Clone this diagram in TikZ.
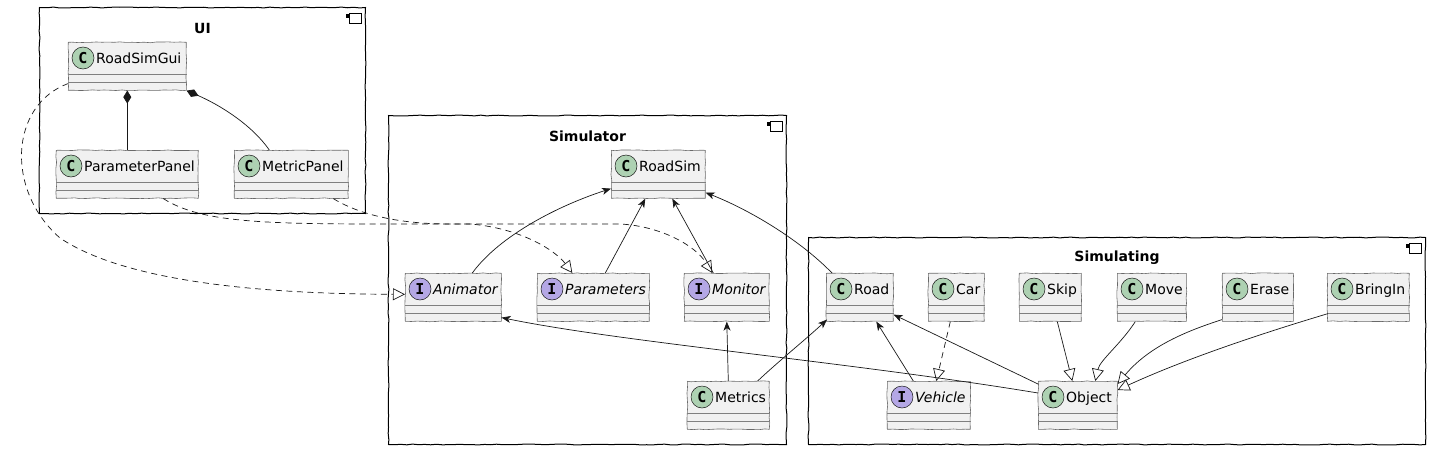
\documentclass[tikz,border=0pt]{standalone}
\usepackage{fontspec}
\setmainfont{DejaVu Sans}
\newfontfamily\badgefont{DejaVu Sans Mono}
\usepackage{tikz}
\usetikzlibrary{arrows.meta, decorations.pathmorphing}
\definecolor{classfill}{HTML}{F1F1F1}
\definecolor{classgreen}{HTML}{ADD1B2}
\definecolor{ifacepurple}{HTML}{B4A7E5}
\definecolor{lineblack}{HTML}{181818}
\tikzset{
    sketchy/.style={decorate, decoration={random steps, segment length=6pt, amplitude=0.45pt}},
    pkg_box/.style={rectangle, draw=black, line width=1pt, anchor=north west, inner sep=0pt, sketchy},
    pkg_title/.style={font=\bfseries\fontsize{14}{16}\selectfont, inner sep=0pt},
    class_box/.style={rectangle, draw=lineblack!65, line width=0.6pt, fill=classfill, minimum height=48pt, anchor=north west, inner sep=0pt, sketchy},
    sep_line/.style={draw=lineblack!55, line width=0.5pt},
    badge_C/.style={circle, draw=lineblack, line width=0.5pt, fill=classgreen, minimum size=22pt, inner sep=0pt, font=\badgefont\bfseries\fontsize{15}{15}\selectfont},
    badge_I/.style={badge_C, fill=ifacepurple},
    icon_line/.style={draw=black, line width=0.7pt},
    assoc/.style={-{Stealth[length=9pt, width=7pt, inset=2.5pt]}, draw=lineblack, line width=0.7pt},
    realize/.style={-{Triangle[open, length=12pt, width=12pt, fill=white]}, draw=lineblack, line width=0.7pt, dash pattern=on 6pt off 4.5pt},
    inherit/.style={-{Triangle[open, length=12pt, width=12pt, fill=white]}, draw=lineblack, line width=0.7pt},
    compose/.style={{Diamond[length=13pt, width=8pt]}-, draw=lineblack, line width=0.7pt}
}
% name, left, top, width, kind (C or I), label
\newcommand{\umlclass}[6]{%
    \node (#1) [class_box, minimum width=#4pt] at (#2,#3) {};
    \draw [sep_line] ([yshift=-32pt]#1.north west) -- ([yshift=-32pt]#1.north east);
    \draw [sep_line] ([yshift=-40pt]#1.north west) -- ([yshift=-40pt]#1.north east);
    \node [badge_#5] at ([xshift=15pt, yshift=-16pt]#1.north west) {#5};
    \node [anchor=base west, inner sep=0pt] at ([xshift=28pt, yshift=-21pt]#1.north west) {#6};
}
\newcommand{\pkgicon}[1]{%
    \draw [icon_line] ([xshift=-17pt, yshift=-6pt]#1.north east) rectangle ([xshift=-5pt, yshift=-16pt]#1.north east);
    \fill ([xshift=-20pt, yshift=-7pt]#1.north east) rectangle ([xshift=-16pt, yshift=-11pt]#1.north east);
}

\begin{document}
\begin{tikzpicture}[x=1pt, y=-1pt, font=\fontsize{14}{16}\selectfont]
            \pgfmathsetseed{5}
            \useasboundingbox (0,0) rectangle (1430,450);

            % Packages
            \node (ui) [pkg_box, minimum width=326pt, minimum height=206pt] at (39,7) {};
            \node [pkg_title] at ([yshift=-21pt]ui.north) {UI};
            \pkgicon{ui}

            \node (simulator) [pkg_box, minimum width=398pt, minimum height=329pt] at (388,115) {};
            \node [pkg_title] at ([yshift=-21pt]simulator.north) {Simulator};
            \pkgicon{simulator}

            \node (simulating) [pkg_box, minimum width=617pt, minimum height=207pt] at (808,237) {};
            \node [pkg_title] at ([yshift=-21pt]simulating.north) {Simulating};
            \pkgicon{simulating}

            % UI classes
            \umlclass{gui}{68}{42}{118}{C}{RoadSimGui}
            \umlclass{ppanel}{56}{150}{142}{C}{ParameterPanel}
            \umlclass{mpanel}{234}{150}{114}{C}{MetricPanel}

            % Simulator classes
            \umlclass{roadsim}{611}{150}{94}{C}{RoadSim}
            \umlclass{animator}{405}{273}{96}{I}{\textit{Animator}}
            \umlclass{params}{537}{273}{112}{I}{\textit{Parameters}}
            \umlclass{monitor}{684}{273}{85}{I}{\textit{Monitor}}
            \umlclass{metrics}{687}{381}{82}{C}{Metrics}

            % Simulating classes
            \umlclass{road}{826}{273}{67}{C}{Road}
            \umlclass{car}{928}{273}{56}{C}{Car}
            \umlclass{skip}{1019}{273}{62}{C}{Skip}
            \umlclass{move}{1117}{273}{69}{C}{Move}
            \umlclass{erase}{1222}{273}{71}{C}{Erase}
            \umlclass{bringin}{1327}{273}{82}{C}{BringIn}
            \umlclass{vehicle}{887}{381}{83}{I}{\textit{Vehicle}}
            \umlclass{object}{1038}{381}{79}{C}{Object}

            % Composition
            \draw [compose] (gui.south) -- (ppanel.north);
            \draw [compose] (gui.south east) .. controls (220,105) and (252,125) .. ([xshift=-22pt]mpanel.north);

            % Realizations
            \draw [realize] ([yshift=7pt]gui.south west) .. controls (10,105) and (5,190) .. (60,238) .. controls (130,285) and (280,294) .. ([yshift=3pt]animator.west);
            \draw [realize] ([xshift=36pt]ppanel.south) .. controls (200,222) and (260,224) .. (385,224) -- (470,224) .. controls (520,228) and (555,250) .. ([xshift=-21pt]params.north);
            \draw [realize] ([xshift=42pt]mpanel.south) .. controls (360,215) and (400,224) .. (450,224) -- (620,224) .. controls (660,226) and (695,245) .. ([xshift=-14.5pt]monitor.north);
            \draw [realize] ([xshift=-6pt]car.south) -- ([xshift=7.5pt]vehicle.north);

            % Associations
            \draw [assoc] ([xshift=19pt]animator.north) .. controls (500,235) and (560,205) .. ([yshift=10pt]roadsim.south west);
            \draw [assoc] ([xshift=12pt]params.north) -- ([xshift=-13pt]roadsim.south);
            \draw [assoc] ([xshift=-13.5pt]monitor.north) -- ([xshift=14pt]roadsim.south);
            \draw [assoc] ([xshift=6pt]road.north west) .. controls (800,240) and (750,210) .. ([yshift=6pt]roadsim.south east);
            \draw [assoc] ([yshift=-12pt]object.north west) .. controls (850,362) and (620,342) .. ([yshift=4pt]animator.south east);
            \draw [assoc] (metrics.north) -- (monitor.south);
            \draw [assoc] ([xshift=-12pt]metrics.north east) .. controls (780,360) and (805,340) .. ([shift={(1pt,2pt)}]road.south west);
            \draw [assoc] ([xshift=-15.5pt]vehicle.north) -- ([xshift=16.5pt]road.south);
            \draw [assoc] ([yshift=-3pt]object.north west) -- ([yshift=7pt]road.south east);

            % Inheritance
            \draw [inherit] ([xshift=7pt]skip.south) -- ([xshift=-5.5pt]object.north);
            \draw [inherit] ([xshift=-16.5pt]move.south) .. controls (1120,345) and (1100,360) .. ([xshift=17.5pt]object.north);
            \draw [inherit] ([yshift=2pt]erase.south west) .. controls (1190,330) and (1150,345) .. ([yshift=-3pt]object.north east);
            \draw [inherit] ([shift={(1pt,8pt)}]bringin.south west) .. controls (1300,322) and (1200,352) .. ([yshift=-9pt]object.north east);
\end{tikzpicture}
\end{document}
